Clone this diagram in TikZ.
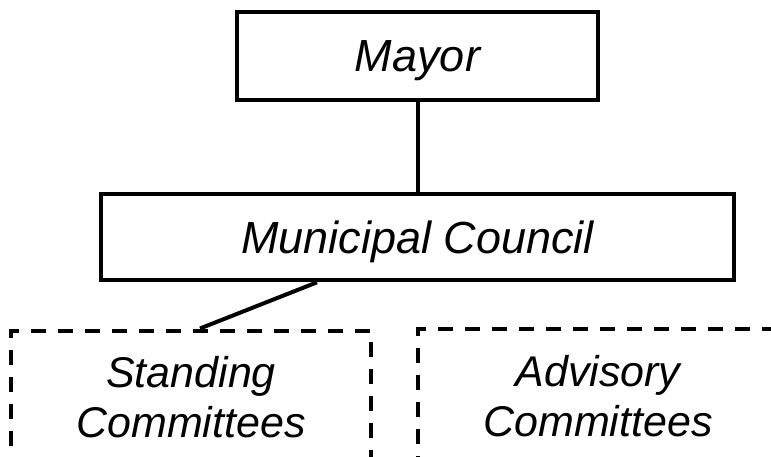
\documentclass[tikz,border=0pt]{standalone}
\usepackage{fontspec}
\setmainfont{Liberation Sans}
\begin{document}
\begin{tikzpicture}[x=1pt,y=1pt,
  solidbox/.style={draw, line width=4pt, rectangle, inner sep=0pt,
    font=\itshape\fontsize{45}{50}\selectfont, text height=40pt, text depth=8pt},
  dashbox/.style={draw, line width=4pt, rectangle, inner sep=0pt,
    dash pattern=on 15pt off 12pt, minimum width=360pt, minimum height=260pt, anchor=north},
  lbl/.style={font=\itshape\fontsize{43}{50}\selectfont, align=center, inner sep=0pt, anchor=north},
  link/.style={line width=4pt}]
\useasboundingbox (0,0) rectangle (771,-457);
\clip (0,0) rectangle (771,-457);
\node[solidbox, minimum width=361pt, minimum height=88pt] (mayor) at (417.5,-56) {Mayor};
\node[solidbox, minimum width=633pt, minimum height=86.6pt] (council) at (417.5,-237) {Municipal Council};
\node[dashbox] (stand) at (191,-328.5) {};
\node[dashbox] (adv) at (598,-326.5) {};
\node[lbl] (standtxt) at ([yshift=-27.5pt]stand.north) {Standing\\Committees};
\node[lbl] (advtxt) at ([yshift=-29pt]adv.north) {Advisory\\Committees};
\draw[link] (mayor.south) -- (mayor.south |- council.north);
\draw[link] ([xshift=-100.5pt]council.south) -- ([xshift=9pt]stand.north);
\end{tikzpicture}
\end{document}
